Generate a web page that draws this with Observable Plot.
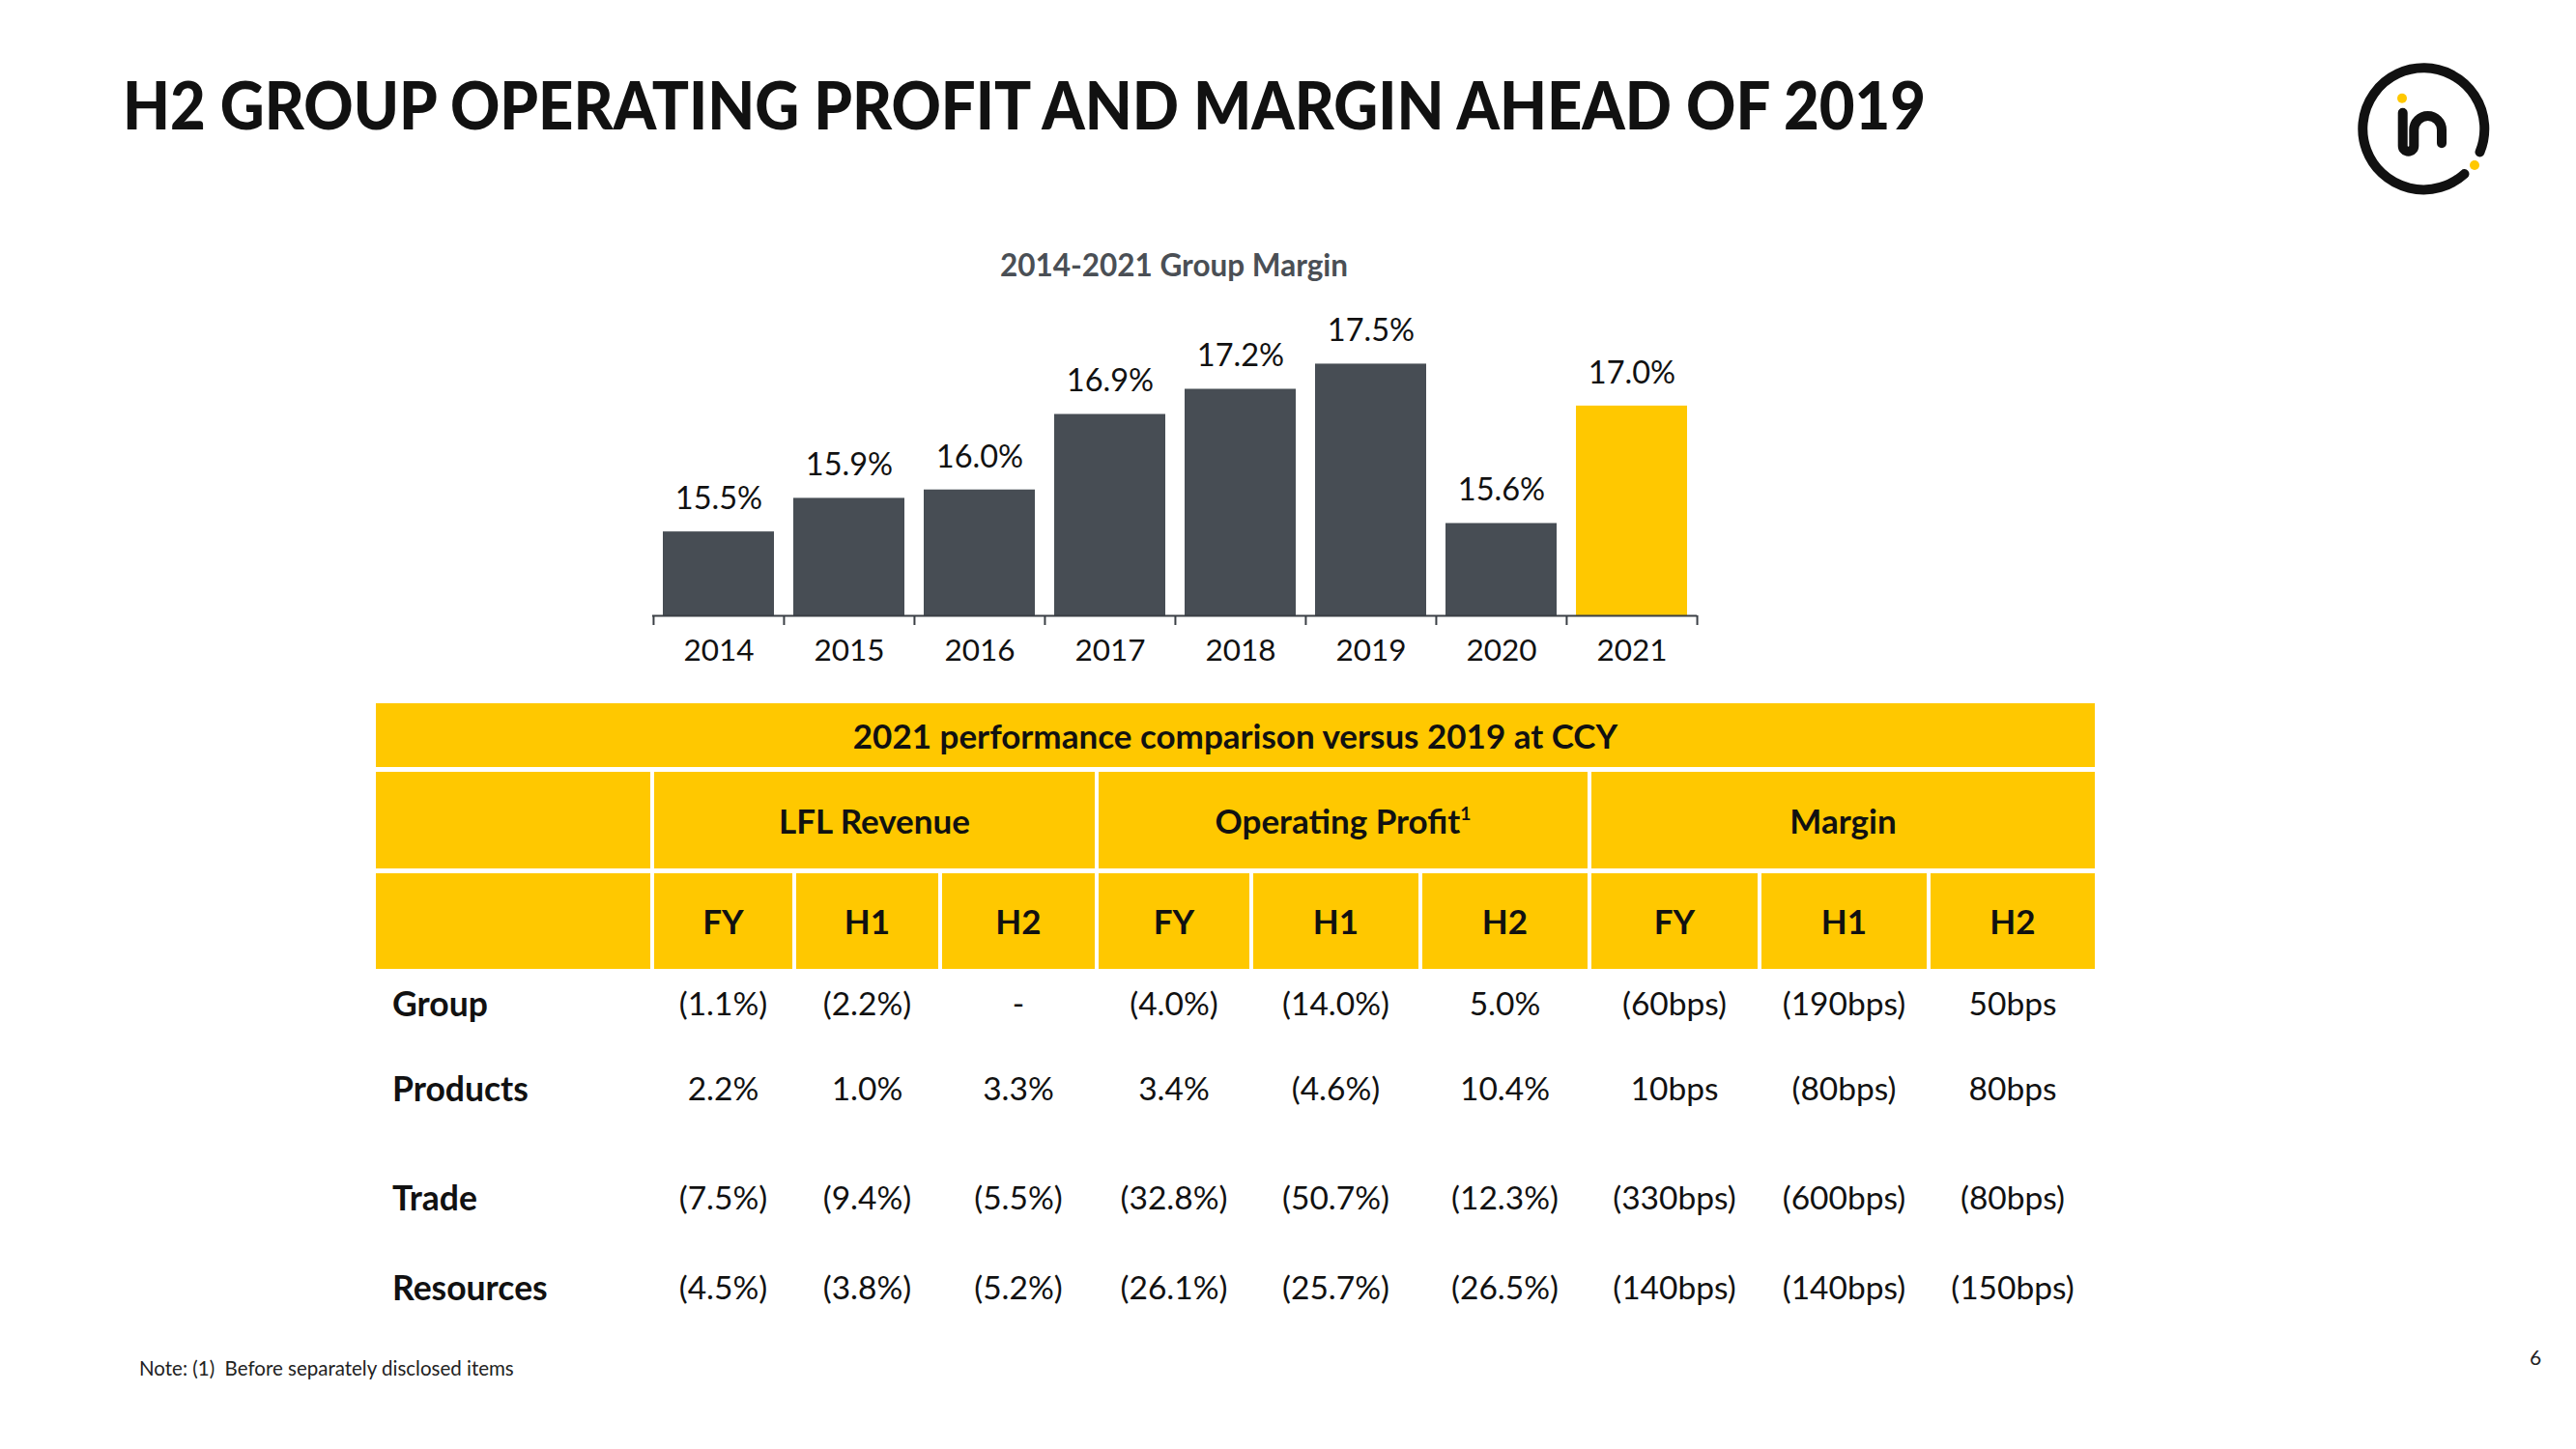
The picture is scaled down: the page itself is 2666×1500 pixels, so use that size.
<!DOCTYPE html>
<html>
<head>
<meta charset="utf-8">
<script src="https://cdn.jsdelivr.net/npm/d3@7"></script>
<script src="https://cdn.jsdelivr.net/npm/@observablehq/plot@0.6"></script>
<style>
  html, body { margin: 0; padding: 0; background: #fff; }
  body { width: 2666px; height: 1500px; position: relative; overflow: hidden; font-family: Lato, "Open Sans", sans-serif; color: #111; }
  .abs { position: absolute; line-height: 1; white-space: nowrap; }
  .cy { transform: translateY(-50%); }
  .cxy { transform: translate(-50%, -50%); }
  #title { left: 127px; top: 107px; font-size: 69px; font-weight: 900; color: #111; transform-origin: 0 50%; }
  #chartTitle { left: 1215px; top: 275px; font-size: 31.5px; font-weight: 700; color: #4a4f55; }
  #chart { left: 671px; top: 303px; }
  #note { left: 144px; top: 1416px; font-size: 20.5px; color: #222; }
  #page { left: 2624px; top: 1404px; font-size: 21px; color: #222; }
  #logo { left: 2400px; top: 40px; }
  table.perf { position: absolute; left: 385px; top: 723px; border-collapse: separate; border-spacing: 4px 5px; table-layout: fixed; }
  table.perf td { padding: 0; text-align: center; vertical-align: middle; font-size: 33.5px; line-height: 1; white-space: nowrap; }
  table.perf tr.hd td { background: #FFC800; font-weight: 700; font-size: 35px; }
  table.perf td.rowlab { text-align: left; padding-left: 17px; font-weight: 700; font-size: 35.5px; }
  table.perf sup { font-size: 0.55em; vertical-align: 0.75em; line-height: 0; }
</style>
</head>
<body>
<div id="title" class="abs">H2 GROUP OPERATING PROFIT AND MARGIN AHEAD OF 2019</div>
<svg id="logo" class="abs" width="260" height="180" viewBox="0 0 260 180">
  <path d="M150.5,140.1 A63,63 0 1 1 166.5,117.4" fill="none" stroke="#111" stroke-width="10" stroke-linecap="round"/>
  <path d="M86.7,76.7 V110.9 A5.8,5.8 0 0 0 98.3,110.9 V94.35 A14.35,14.35 0 0 1 127,94.35 V108.3" fill="none" stroke="#111" stroke-width="10" stroke-linecap="round" stroke-linejoin="round"/>
  <circle cx="86" cy="61.7" r="5" fill="#FFC800"/>
  <circle cx="161" cy="131" r="5" fill="#FFC800"/>
</svg>
<div id="chartTitle" class="abs cxy">2014-2021 Group Margin</div>
<div id="chart" class="abs"></div>
<div id="tableWrap"></div>
<div id="note" class="abs cy">Note: (1)&nbsp; Before separately disclosed items</div>
<div id="page" class="abs cxy">6</div>

<script>
// ---------- data ----------
const years = ["2014", "2015", "2016", "2017", "2018", "2019", "2020", "2021"];
const margins = [15.5, 15.9, 16.0, 16.9, 17.2, 17.5, 15.6, 17.0];
const highlightYear = "2021";

const tableTitle = "2021 performance comparison versus 2019 at CCY";
const metricGroups = ["LFL Revenue", "Operating Profit", "Margin"];
const periods = ["FY", "H1", "H2"];
const segments = ["Group", "Products", "Trade", "Resources"];
// % change, FY / H1 / H2
const lflRevenue = [[-1.1, -2.2, 0], [2.2, 1.0, 3.3], [-7.5, -9.4, -5.5], [-4.5, -3.8, -5.2]];
const operatingProfit = [[-4.0, -14.0, 5.0], [3.4, -4.6, 10.4], [-32.8, -50.7, -12.3], [-26.1, -25.7, -26.5]];
// margin change in bps, FY / H1 / H2
const marginBps = [[-60, -190, 50], [10, -80, 80], [-330, -600, -80], [-140, -140, -150]];

// ---------- colours ----------
const GREY = "#474d54";
const YELLOW = "#FFC800";

// ---------- chart ----------
const plotW = 1081, mL = 4, mR = 4;
const step = plotW / years.length;
const yMin = 14.5;
const data = years.map((y, i) => ({year: y, margin: margins[i], kind: y === highlightYear ? "hi" : "base"}));

const chart = Plot.plot({
  width: plotW + mL + mR,
  height: 394,
  marginLeft: mL,
  marginRight: mR,
  marginTop: 30,
  marginBottom: 60,
  x: {domain: years, paddingInner: 0.15, paddingOuter: 0.075},
  y: {domain: [yMin, 18], axis: null},
  color: {domain: ["base", "hi"], range: [GREY, YELLOW]},
  style: {fontFamily: "Lato, 'Open Sans', sans-serif", fontSize: "31.5px", background: "transparent", color: "#111", overflow: "visible"},
  marks: [
    Plot.barY(data, {x: "year", y1: yMin, y2: "margin", fill: "kind"}),
    Plot.text(data, {x: "year", y: "margin", text: d => d.margin.toFixed(1) + "%", dy: -34, fill: "#111", fontSize: 32.5}),
    Plot.ruleY([yMin], {stroke: "#3a3f45", strokeWidth: 2}),
    Plot.ruleX(years, {x: d => d, y1: yMin, y2: yMin, dx: -step / 2, insetBottom: -10, stroke: "#3a3f45", strokeWidth: 2}),
    Plot.ruleX(years.slice(-1), {x: d => d, y1: yMin, y2: yMin, dx: step / 2, insetBottom: -10, stroke: "#3a3f45", strokeWidth: 2}),
    Plot.axisX({tickSize: 0, tickPadding: 24, fill: "#111", label: null})
  ]
});
document.getElementById("chart").appendChild(chart);

// ---------- table ----------
const fmtPct = v => v === 0 ? "-" : v < 0 ? `(${Math.abs(v).toFixed(1)}%)` : `${v.toFixed(1)}%`;
const fmtBps = v => v < 0 ? `(${Math.abs(v)}bps)` : `${v}bps`;

const colWidths = [284, 143, 147, 158, 156, 171, 171, 172, 171, 170];
const dataRowHeights = [62, 104, 112, 64];

const table = document.createElement("table");
table.className = "perf";
const cg = document.createElement("colgroup");
colWidths.forEach(w => { const c = document.createElement("col"); c.style.width = w + "px"; cg.appendChild(c); });
table.appendChild(cg);

function addRow(cls, height, cells) {
  const tr = document.createElement("tr");
  if (cls) tr.className = cls;
  tr.style.height = height + "px";
  cells.forEach(c => {
    const td = document.createElement("td");
    if (c.span) td.colSpan = c.span;
    if (c.cls) td.className = c.cls;
    td.innerHTML = c.html;
    tr.appendChild(td);
  });
  table.appendChild(tr);
}

addRow("hd", 66, [{html: tableTitle, span: 10}]);
addRow("hd", 100, [{html: ""}].concat(metricGroups.map((g, i) => ({html: i === 1 ? g + "<sup>1</sup>" : g, span: 3}))));
addRow("hd", 99, [{html: ""}].concat(metricGroups.flatMap(() => periods.map(p => ({html: p})))));
segments.forEach((s, r) => {
  const vals = [...lflRevenue[r].map(fmtPct), ...operatingProfit[r].map(fmtPct), ...marginBps[r].map(fmtBps)];
  addRow("", dataRowHeights[r], [{html: s, cls: "rowlab"}].concat(vals.map(v => ({html: v}))));
});
document.getElementById("tableWrap").appendChild(table);

// ---------- fit title width (horizontal condensing, like the original face) ----------
const titleEl = document.getElementById("title");
const tw = titleEl.getBoundingClientRect().width;
titleEl.style.transform = `translateY(-50%) scaleX(${1866 / tw})`;
</script>
</body>
</html>
